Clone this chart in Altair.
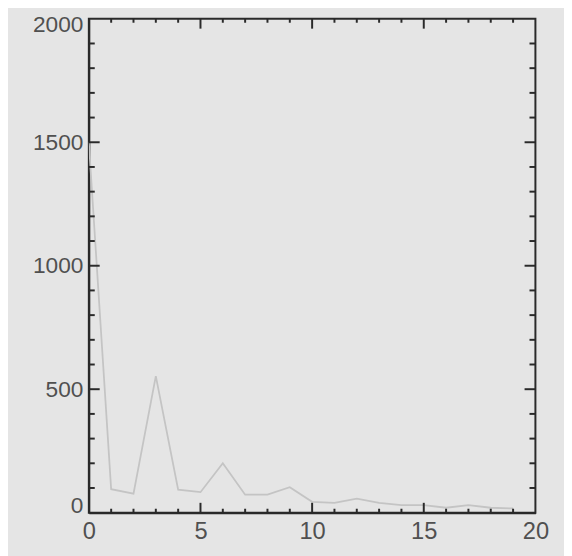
import altair as alt
import pandas as pd

# Data
x_vals = list(range(0, 20))
y_vals = [1500, 95, 77, 553, 93, 83, 200, 73, 73, 103, 44, 40, 57, 40, 31, 31, 20, 31, 20, 17]

x_label_vals = [0, 5, 10, 15, 20]
y_label_vals = [0, 500, 1000, 1500, 2000]
x_minor = [v for v in range(1, 20) if v % 5 != 0]
x_major = [5, 10, 15]
y_minor = [v for v in range(100, 2000, 100) if v % 500 != 0]
y_major = [500, 1000, 1500]

W, H = 453, 501
FRAME = "#2a2a2a"
BG = "#e5e5e5"

df = pd.DataFrame({"x": x_vals, "y": y_vals})
xs = alt.Scale(domain=[0, 20], nice=False, zero=False)
ys = alt.Scale(domain=[0, 2000], nice=False)

line = alt.Chart(df).mark_line(color="#c4c4c4", strokeWidth=1.8, clip=True).encode(
    x=alt.X("x:Q", scale=xs, axis=alt.Axis(values=x_label_vals, title=None, tickSize=0,
                                           domainColor=FRAME, domainWidth=2,
                                           labelFontSize=24, labelColor="#505050",
                                           labelPadding=7, grid=False, labelFlush=False,
                                           format="d")),
    y=alt.Y("y:Q", scale=ys, axis=alt.Axis(values=y_label_vals, title=None, tickSize=0,
                                           domainColor=FRAME, domainWidth=2,
                                           labelFontSize=23, labelColor="#505050",
                                           labelPadding=6, grid=False, labelFlush=True,
                                           labelFlushOffset=5, format="d")),
)

def xticks(vals, length):
    d = pd.DataFrame({"x": vals})
    bottom = alt.Chart(d).mark_rule(color=FRAME, strokeWidth=2).encode(
        x=alt.X("x:Q", scale=xs), y=alt.value(H), y2=alt.value(H - length))
    top = alt.Chart(d).mark_rule(color=FRAME, strokeWidth=2).encode(
        x=alt.X("x:Q", scale=xs), y=alt.value(0), y2=alt.value(length))
    return [bottom, top]

def yticks(vals, length):
    d = pd.DataFrame({"y": vals})
    left = alt.Chart(d).mark_rule(color=FRAME, strokeWidth=2).encode(
        y=alt.Y("y:Q", scale=ys), x=alt.value(0), x2=alt.value(length))
    right = alt.Chart(d).mark_rule(color=FRAME, strokeWidth=2).encode(
        y=alt.Y("y:Q", scale=ys), x=alt.value(W), x2=alt.value(W - length))
    return [left, right]

layers = [line] + xticks(x_minor, 4) + xticks(x_major, 10) + yticks(y_minor, 6) + yticks(y_major, 11)

chart = alt.layer(*layers).properties(
    width=W, height=H,
    autosize=alt.AutoSizeParams(type="none"),
    padding={"left": 82, "top": 7, "right": 29, "bottom": 40},
    background=BG,
).configure_view(
    stroke=FRAME, strokeWidth=2, fill=BG
).configure_axis(
    labelFont="Liberation Sans"
)

chart.save("out.html", embed_options={"renderer": "svg", "actions": False})
